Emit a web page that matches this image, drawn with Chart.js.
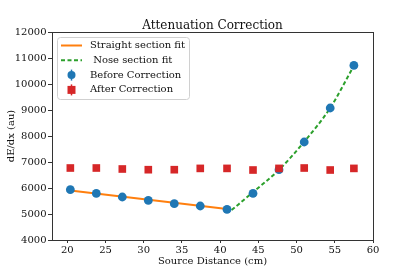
<!DOCTYPE html>
<html><head><meta charset="utf-8">
<script src="https://cdn.jsdelivr.net/npm/chart.js@4/dist/chart.umd.min.js"></script>
<style>html,body{margin:0;padding:0;background:#fff}#c{display:block}</style>
</head><body>
<canvas id="c" width="415" height="270"></canvas>
<script>
const sourceDistance = [20.4, 23.8, 27.2, 30.6, 34.0, 37.4, 40.9, 44.3, 47.7, 51.0, 54.4, 57.5];
const beforeCorrection = [5935, 5792, 5654, 5523, 5396, 5308, 5177, 5792, 6704, 7769, 9077, 10715];
const afterCorrection = [6769, 6769, 6731, 6704, 6704, 6754, 6754, 6692, 6754, 6769, 6692, 6754];
const straightFitX = [20.4, 40.9];
const straightFitY = [5905, 5195];
const noseFitX = [41.5, 44.3, 47.7, 51.0, 54.4, 57.5];
const noseFitY = [5150, 5840, 6700, 7780, 9080, 10700];
const xTicks = [20, 25, 30, 35, 40, 45, 50, 55, 60];
const yTicks = [4000, 5000, 6000, 7000, 8000, 9000, 10000, 11000, 12000];
const chartTitle = 'Attenuation Correction';

const FONT = '"DejaVu Serif", serif';
const pts = (xs, ys) => xs.map((x, i) => ({x, y: ys[i]}));

const legendItems = [
  {label: 'Straight section fit', type: 'line', color: '#ff7f0e'},
  {label: ' Nose section fit', type: 'dash', color: '#2ca02c'},
  {label: 'Before Correction', type: 'circle', color: '#1f77b4'},
  {label: 'After Correction', type: 'square', color: '#d62728'}
];

const boxPlugin = {
  id: 'boxLegend',
  afterDraw(chart) {
    const ctx = chart.ctx, a = chart.chartArea;
    ctx.save();
    ctx.strokeStyle = '#333'; ctx.lineWidth = 1;
    ctx.strokeRect(Math.round(a.left) + 0.5, Math.round(a.top) + 0.5, Math.round(a.right - a.left), Math.round(a.bottom - a.top));
    ctx.font = '12px ' + FONT; ctx.fillStyle = '#111'; ctx.textAlign = 'center'; ctx.textBaseline = 'alphabetic';
    ctx.fillText(chartTitle, (a.left + a.right) / 2, a.top - 3.5);
    const lx = a.left + 5, ly = a.top + 5, lw = 132, lh = 62;
    ctx.beginPath();
    if (ctx.roundRect) ctx.roundRect(lx + 0.5, ly + 0.5, lw, lh, 3); else ctx.rect(lx + 0.5, ly + 0.5, lw, lh);
    ctx.fillStyle = 'rgba(255,255,255,0.85)'; ctx.fill();
    ctx.strokeStyle = '#d0d0d0'; ctx.lineWidth = 1; ctx.stroke();
    ctx.font = '10px ' + FONT; ctx.textBaseline = 'middle'; ctx.textAlign = 'left'; ctx.fillStyle = '#111';
    legendItems.forEach((it, i) => {
      const cy = ly + 8.5 + i * 14.8;
      const x0 = lx + 4, x1 = lx + 25, xm = (x0 + x1) / 2;
      if (it.type === 'line' || it.type === 'dash') {
        ctx.beginPath(); ctx.strokeStyle = it.color; ctx.lineWidth = 2;
        ctx.setLineDash(it.type === 'dash' ? [4, 2.5] : []);
        ctx.moveTo(x0, cy); ctx.lineTo(x1, cy); ctx.stroke(); ctx.setLineDash([]);
      } else {
        ctx.beginPath(); ctx.strokeStyle = it.color; ctx.lineWidth = 1.5;
        ctx.moveTo(xm, cy - 5.5); ctx.lineTo(xm, cy + 5.5); ctx.stroke();
        ctx.fillStyle = it.color; ctx.beginPath();
        if (it.type === 'circle') ctx.arc(xm, cy, 4, 0, Math.PI * 2); else ctx.rect(xm - 4, cy - 4, 8, 8);
        ctx.fill();
      }
      ctx.fillStyle = '#111';
      ctx.fillText(it.label, lx + 33, cy);
    });
    ctx.restore();
  }
};

new Chart(document.getElementById('c'), {
  type: 'scatter',
  data: {
    datasets: [
      {label: 'Straight section fit', type: 'line', data: pts(straightFitX, straightFitY), borderColor: '#ff7f0e', borderWidth: 2, pointRadius: 0, fill: false, order: 3},
      {label: 'Nose section fit', type: 'line', data: pts(noseFitX, noseFitY), borderColor: '#2ca02c', borderWidth: 2, borderDash: [4, 2.5], pointRadius: 0, fill: false, cubicInterpolationMode: 'monotone', order: 2},
      {label: 'Before Correction', data: pts(sourceDistance, beforeCorrection), backgroundColor: '#1f77b4', borderColor: '#1f77b4', pointRadius: 4.4, pointBorderWidth: 0, order: 1},
      {label: 'After Correction', data: pts(sourceDistance, afterCorrection), backgroundColor: '#d62728', borderColor: '#d62728', pointStyle: 'rect', pointRadius: 5.4, pointBorderWidth: 0, order: 0}
    ]
  },
  options: {
    responsive: false, animation: false, devicePixelRatio: 1,
    layout: {padding: {left: 0, right: 42, top: 32, bottom: 0}},
    plugins: {legend: {display: false}, tooltip: {enabled: false}, title: {display: false}},
    scales: {
      x: {
        type: 'linear', min: 18, max: 60,
        afterBuildTicks: s => { s.ticks = xTicks.map(v => ({value: v})); },
        afterFit: s => { s.height = 30; },
        grid: {drawOnChartArea: false, drawTicks: true, tickLength: 3, color: '#333'},
        border: {display: false},
        ticks: {color: '#111', font: {family: FONT, size: 10}, padding: 1, maxRotation: 0, callback: v => String(v)},
        title: {display: true, text: 'Source Distance (cm)', color: '#111', font: {family: FONT, size: 10}, padding: {top: 0, bottom: 3}}
      },
      y: {
        type: 'linear', min: 4000, max: 12000,
        afterBuildTicks: s => { s.ticks = yTicks.map(v => ({value: v})); },
        afterFit: s => { s.width = 52; },
        grid: {drawOnChartArea: false, drawTicks: true, tickLength: 4, color: '#333'},
        border: {display: false},
        ticks: {color: '#111', font: {family: FONT, size: 10}, padding: 1.5, callback: v => String(v)},
        title: {display: true, text: 'dE/dx (au)', color: '#111', font: {family: FONT, size: 10}, padding: {top: 5, bottom: 0}}
      }
    }
  },
  plugins: [boxPlugin]
});
</script>
</body></html>
